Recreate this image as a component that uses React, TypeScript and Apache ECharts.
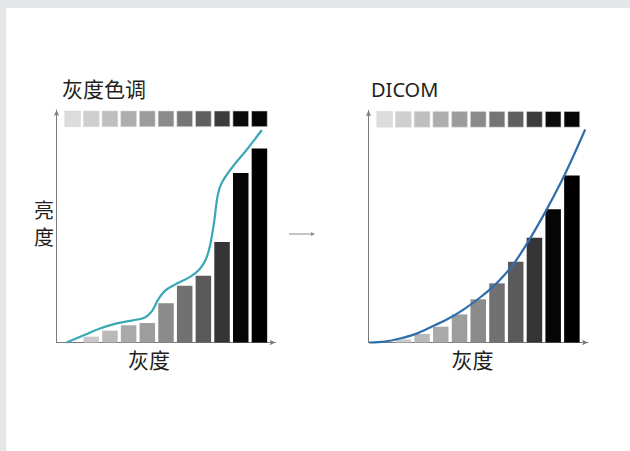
import React, { useEffect, useRef } from "react";
import * as echarts from "echarts";

// slots 0..10 (grey levels)
const slots = [0, 1, 2, 3, 4, 5, 6, 7, 8, 9, 10];

// swatch row colours (grey ramp)
const swatchColors = [
  "#dcdcdc", "#cfcfcf", "#bfbfbf", "#adadad", "#9c9c9c", "#8a8a8a",
  "#757575", "#5f5f5f", "#3c3c3c", "#0b0b0b", "#050505",
];
// bar colours
const barColors = [
  "#d6d6d6", "#c9c9c9", "#b9b9b9", "#aaaaaa", "#9d9d9d", "#8b8b8b",
  "#717173", "#5a5a5c", "#353537", "#060606", "#000000",
];

// left chart (灰度色调) bar heights
const leftBars = [0, 2.5, 5.1, 7.4, 8.4, 16.9, 24.4, 28.7, 43.2, 72.9, 83.4];
// right chart (DICOM) bar heights
const rightBars = [0, 1.4, 3.7, 6.8, 12.1, 18.6, 25.5, 34.8, 45.1, 57.4, 72.0];

// left curve [grey, brightness]
const leftCurve = [
  [-0.32, 0], [0.56, 3.0], [1.47, 6.0], [2.37, 8.2], [3.23, 9.5], [3.87, 10.8],
  [4.25, 13.5], [4.57, 18.3], [4.94, 22.2], [5.48, 24.9], [6.29, 28.2],
  [6.81, 31.6], [7.14, 35.9], [7.35, 41.5], [7.56, 51.0], [7.77, 63.4],
  [7.99, 68.8], [8.58, 75.7], [9.33, 83.0], [10.13, 91.4],
];
// right curve [grey, brightness]
const rightCurve = [
  [-0.83, 0], [0.02, 0.4], [0.82, 1.7], [1.63, 3.6], [2.43, 6.5], [3.32, 9.9],
  [4.21, 14.2], [5.1, 19.4], [5.99, 25.6], [6.88, 33.8], [7.78, 45.0],
  [8.67, 57.6], [9.47, 69.9], [10.07, 80.2], [10.71, 91.8],
];

const swatchLevel = 96.2;

const titles = ["灰度色调", "DICOM"];
const xName = "灰度";
const yNameChars = ["亮", "度"];

const CJK = '"Noto Sans CJK SC", "Noto Sans", sans-serif';
const LAT = '"Noto Sans", "Noto Sans CJK SC", sans-serif';
const INK = "#231f20";
const AXIS = "#7a7a7a";

export default function App() {
  const ref = useRef<HTMLDivElement>(null);
  useEffect(() => {
    if (!ref.current) return;
    const chart = echarts.init(ref.current, undefined, { renderer: "svg" });

    const axisLine = {
      show: true,
      onZero: false,
      symbol: ["none", "arrow"],
      symbolSize: [4, 6],
      lineStyle: { color: AXIS, width: 1 },
    };
    const xAx = (gi: number) => ({
      type: "value",
      gridIndex: gi,
      min: -0.86,
      max: 10.86,
      axisLine,
      axisTick: { show: false },
      axisLabel: { show: false },
      splitLine: { show: false },
    });
    const yAx = (gi: number) => ({
      type: "value",
      gridIndex: gi,
      min: 0,
      max: 100,
      axisLine,
      axisTick: { show: false },
      axisLabel: { show: false },
      splitLine: { show: false },
    });

    const barSeries = (gi: number, vals: number[]) => ({
      type: "bar",
      xAxisIndex: gi,
      yAxisIndex: gi,
      barWidth: 15.5,
      data: slots.map((s, i) => ({
        value: [s, vals[i]],
        itemStyle: { color: barColors[i] },
      })),
      z: 2,
    });
    const swatchSeries = (gi: number) => ({
      type: "scatter",
      xAxisIndex: gi,
      yAxisIndex: gi,
      symbol: "rect",
      symbolSize: [15.7, 15.7],
      data: slots.map((s, i) => ({
        value: [s, swatchLevel],
        itemStyle: { color: swatchColors[i], opacity: 1, borderColor: "#d9d9d9", borderWidth: 0.6 },
      })),
      z: 2,
    });
    const lineSeries = (gi: number, pts: number[][], color: string) => ({
      type: "line",
      xAxisIndex: gi,
      yAxisIndex: gi,
      data: pts,
      smooth: 0.35,
      showSymbol: false,
      symbol: "none",
      clip: false,
      lineStyle: { color, width: 2.2 },
      z: 3,
    });

    chart.setOption({
      animation: false,
      backgroundColor: "transparent",
      grid: [
        { left: 56.5, top: 110, width: 219, height: 232.5 },
        { left: 368.5, top: 110.5, width: 219.5, height: 232 },
      ],
      xAxis: [xAx(0), xAx(1)],
      yAxis: [yAx(0), yAx(1)],
      series: [
        barSeries(0, leftBars),
        swatchSeries(0),
        lineSeries(0, leftCurve, "#3aa8b4"),
        barSeries(1, rightBars),
        swatchSeries(1),
        lineSeries(1, rightCurve, "#2f6eaa"),
      ],
      graphic: [
        {
          type: "text",
          x: 62,
          y: 88,
          style: { text: titles[0], fontSize: 21, fontFamily: CJK, fill: INK, align: "left", verticalAlign: "middle" },
        },
        {
          type: "text",
          x: 371,
          y: 89,
          style: { text: titles[1], fontSize: 20, fontFamily: LAT, fill: INK, align: "left", verticalAlign: "middle", letterSpacing: 1 } as any,
        },
        {
          type: "text",
          x: 44,
          y: 209.5,
          style: { text: yNameChars[0], fontSize: 20, lineHeight: 20, fontFamily: CJK, fill: INK, align: "center", verticalAlign: "middle" },
        },
        {
          type: "text",
          x: 44,
          y: 236,
          style: { text: yNameChars[1], fontSize: 20, lineHeight: 20, fontFamily: CJK, fill: INK, align: "center", verticalAlign: "middle" },
        },
        {
          type: "text",
          x: 149,
          y: 358.5,
          style: { text: xName, fontSize: 21, fontFamily: CJK, fill: INK, align: "center", verticalAlign: "middle" },
        },
        {
          type: "text",
          x: 472.5,
          y: 359,
          style: { text: xName, fontSize: 21, fontFamily: CJK, fill: INK, align: "center", verticalAlign: "middle" },
        },
        {
          type: "line",
          shape: { x1: 289, y1: 234, x2: 313, y2: 234 },
          style: { stroke: "#8a8a8a", lineWidth: 1 },
        },
        {
          type: "polygon",
          shape: { points: [[315, 234], [311, 232], [311, 236]] },
          style: { fill: "#8a8a8a" },
        },
      ],
    });
    return () => chart.dispose();
  }, []);

  return (
    <div style={{ position: "fixed", left: 0, top: 0, width: 630, height: 451, background: "#e5e6e8" }}>
      <div style={{ position: "absolute", left: 6, top: 8, width: 624, height: 443, background: "#ffffff" }} />
      <div ref={ref} style={{ position: "absolute", left: 0, top: 0, width: 630, height: 451 }} />
    </div>
  );
}
